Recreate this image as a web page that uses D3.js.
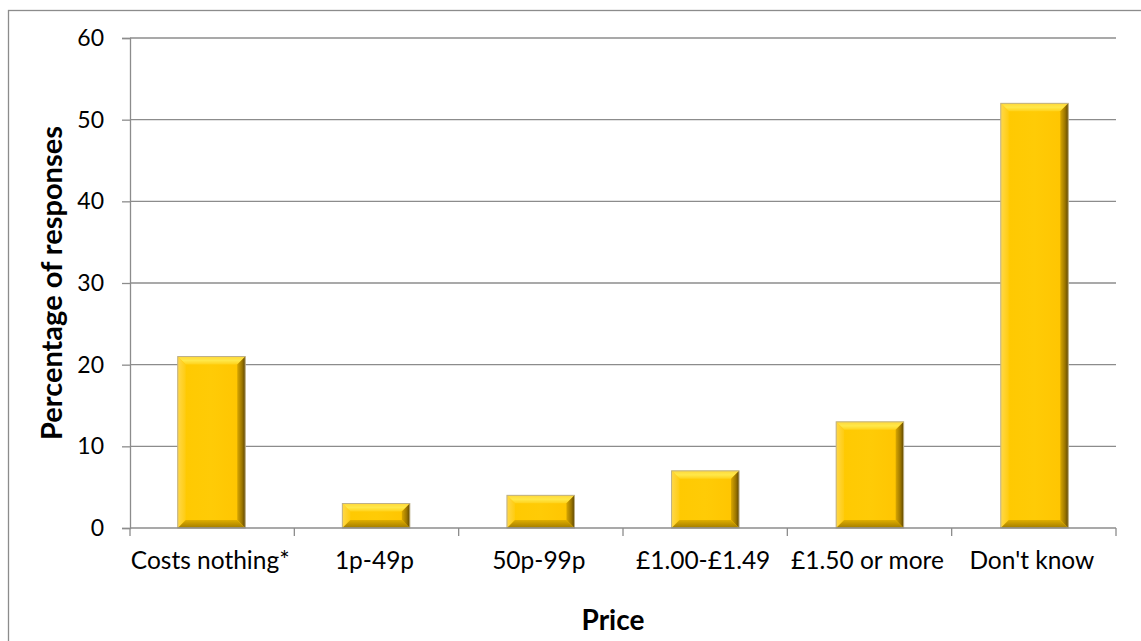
<!DOCTYPE html>
<html>
<head>
<meta charset="utf-8">
<script src="https://cdn.jsdelivr.net/npm/d3@7"></script>
<style>
  html, body { margin: 0; padding: 0; background: #fff; }
  svg { display: block; font-family: Lato, "Open Sans", "Liberation Sans", sans-serif; }
</style>
</head>
<body>
<svg id="chart" width="1141" height="641"></svg>
<script>
// Survey responses by price band
const categories = ["Costs nothing*", "1p-49p", "50p-99p", "£1.00-£1.49", "£1.50 or more", "Don't know"];
const percentages = [21, 3, 4, 7, 13, 52];
const yTicks = [0, 10, 20, 30, 40, 50, 60];

const svg = d3.select("#chart");
const W = 1141, H = 641;
const plot = { left: 130, right: 1116, top: 38, bottom: 528 };
const gridColor = "#8c8c8c";

// Gradients for the bevelled bar edges
const defs = svg.append("defs");
function grad(id, x1, y1, x2, y2, stops) {
  const g = defs.append("linearGradient").attr("id", id)
    .attr("x1", x1).attr("y1", y1).attr("x2", x2).attr("y2", y2);
  stops.forEach(([o, c]) => g.append("stop").attr("offset", o).attr("stop-color", c));
}
grad("bevTop", 0, 1, 0, 0, [[0, "#FFD21A"], [0.5, "#FFE84A"], [1, "#FFD83A"]]);
grad("bevLeft", 1, 0, 0, 0, [[0, "#FFCC10"], [1, "#FFD84A"]]);
grad("bevRight", 0, 0, 1, 0, [[0, "#D8A600"], [0.6, "#9C7600"], [1, "#5E4600"]]);
grad("bevBottom", 0, 0, 0, 1, [[0, "#E0AE00"], [1, "#A27C00"]]);
grad("face", 0, 0, 1, 0, [[0, "#FFC900"], [0.5, "#FFCB06"], [1, "#FFC400"]]);

// Outer chart frame
svg.append("rect")
  .attr("x", 8.5).attr("y", 10.5)
  .attr("width", W + 10).attr("height", H + 10)
  .attr("fill", "#fff").attr("stroke", gridColor).attr("stroke-width", 1.3);

const x = d3.scaleBand().domain(categories).range([plot.left, plot.right]).paddingInner(0.59).paddingOuter(0.29);
const xBand = d3.scaleBand().domain(categories).range([plot.left, plot.right]);
const y = d3.scaleLinear().domain([0, 60]).range([plot.bottom, plot.top]);

// Horizontal gridlines
svg.append("g").selectAll("line").data(yTicks.filter(d => d > 0)).join("line")
  .attr("x1", plot.left).attr("x2", plot.right)
  .attr("y1", d => y(d)).attr("y2", d => y(d))
  .attr("stroke", gridColor).attr("stroke-width", 1.3);

// Y axis
const yAxis = d3.axisLeft(y).tickValues(yTicks).tickSize(8).tickPadding(18);
const gy = svg.append("g").attr("transform", `translate(${plot.left},0)`).call(yAxis);
gy.select(".domain").attr("stroke", gridColor).attr("stroke-width", 1.3);
gy.selectAll(".tick line").attr("stroke", gridColor).attr("stroke-width", 1.3);
gy.selectAll(".tick text").attr("font-size", 23).attr("fill", "#000")
  .attr("font-family", "Lato, 'Open Sans', sans-serif");

// Bars with bevelled edges
const bevel = 8;
const bars = svg.append("g").selectAll("g").data(categories).join("g");
bars.each(function(c, i) {
  const g = d3.select(this);
  const x0 = x(c), x1 = x(c) + x.bandwidth();
  const y0 = y(percentages[i]), y1 = y(0);
  const b = Math.min(bevel, (y1 - y0) / 2, (x1 - x0) / 2);
  // face
  g.append("rect").attr("x", x0).attr("y", y0).attr("width", x1 - x0).attr("height", y1 - y0)
    .attr("fill", "url(#face)");
  // top
  g.append("polygon").attr("points", [[x0, y0], [x1, y0], [x1 - b, y0 + b], [x0 + b, y0 + b]].join(" "))
    .attr("fill", "url(#bevTop)");
  // left
  g.append("polygon").attr("points", [[x0, y0], [x0 + b, y0 + b], [x0 + b, y1 - b], [x0, y1]].join(" "))
    .attr("fill", "url(#bevLeft)");
  // right
  g.append("polygon").attr("points", [[x1, y0], [x1, y1], [x1 - b, y1 - b], [x1 - b, y0 + b]].join(" "))
    .attr("fill", "url(#bevRight)");
  // bottom
  g.append("polygon").attr("points", [[x0, y1], [x1, y1], [x1 - b, y1 - b], [x0 + b, y1 - b]].join(" "))
    .attr("fill", "url(#bevBottom)");
  // outline
  g.append("rect").attr("x", x0).attr("y", y0).attr("width", x1 - x0).attr("height", y1 - y0)
    .attr("fill", "none").attr("stroke", "#BDB08A").attr("stroke-width", 1);
});

// X axis line and category separators
svg.append("line").attr("x1", plot.left).attr("x2", plot.right)
  .attr("y1", plot.bottom).attr("y2", plot.bottom)
  .attr("stroke", gridColor).attr("stroke-width", 1.3);
const seps = categories.map(c => xBand(c)).concat([plot.right]);
svg.append("g").selectAll("line").data(seps).join("line")
  .attr("x1", d => d).attr("x2", d => d)
  .attr("y1", plot.bottom).attr("y2", plot.bottom + 8)
  .attr("stroke", gridColor).attr("stroke-width", 1.3);

svg.append("g").selectAll("text").data(categories).join("text")
  .attr("x", c => xBand(c) + xBand.bandwidth() / 2 - 2)
  .attr("y", 569)
  .attr("text-anchor", "middle").attr("font-size", 24.5).attr("fill", "#000")
  .text(c => c);

// Axis titles
svg.append("text").attr("x", (plot.left + plot.right) / 2 - 10).attr("y", 630)
  .attr("text-anchor", "middle").attr("font-size", 28).attr("font-weight", "bold")
  .text("Price");
svg.append("text")
  .attr("transform", `translate(62,${(plot.top + plot.bottom) / 2}) rotate(-90)`)
  .attr("text-anchor", "middle").attr("font-size", 29).attr("font-weight", "bold")
  .text("Percentage of responses");
</script>
</body>
</html>
